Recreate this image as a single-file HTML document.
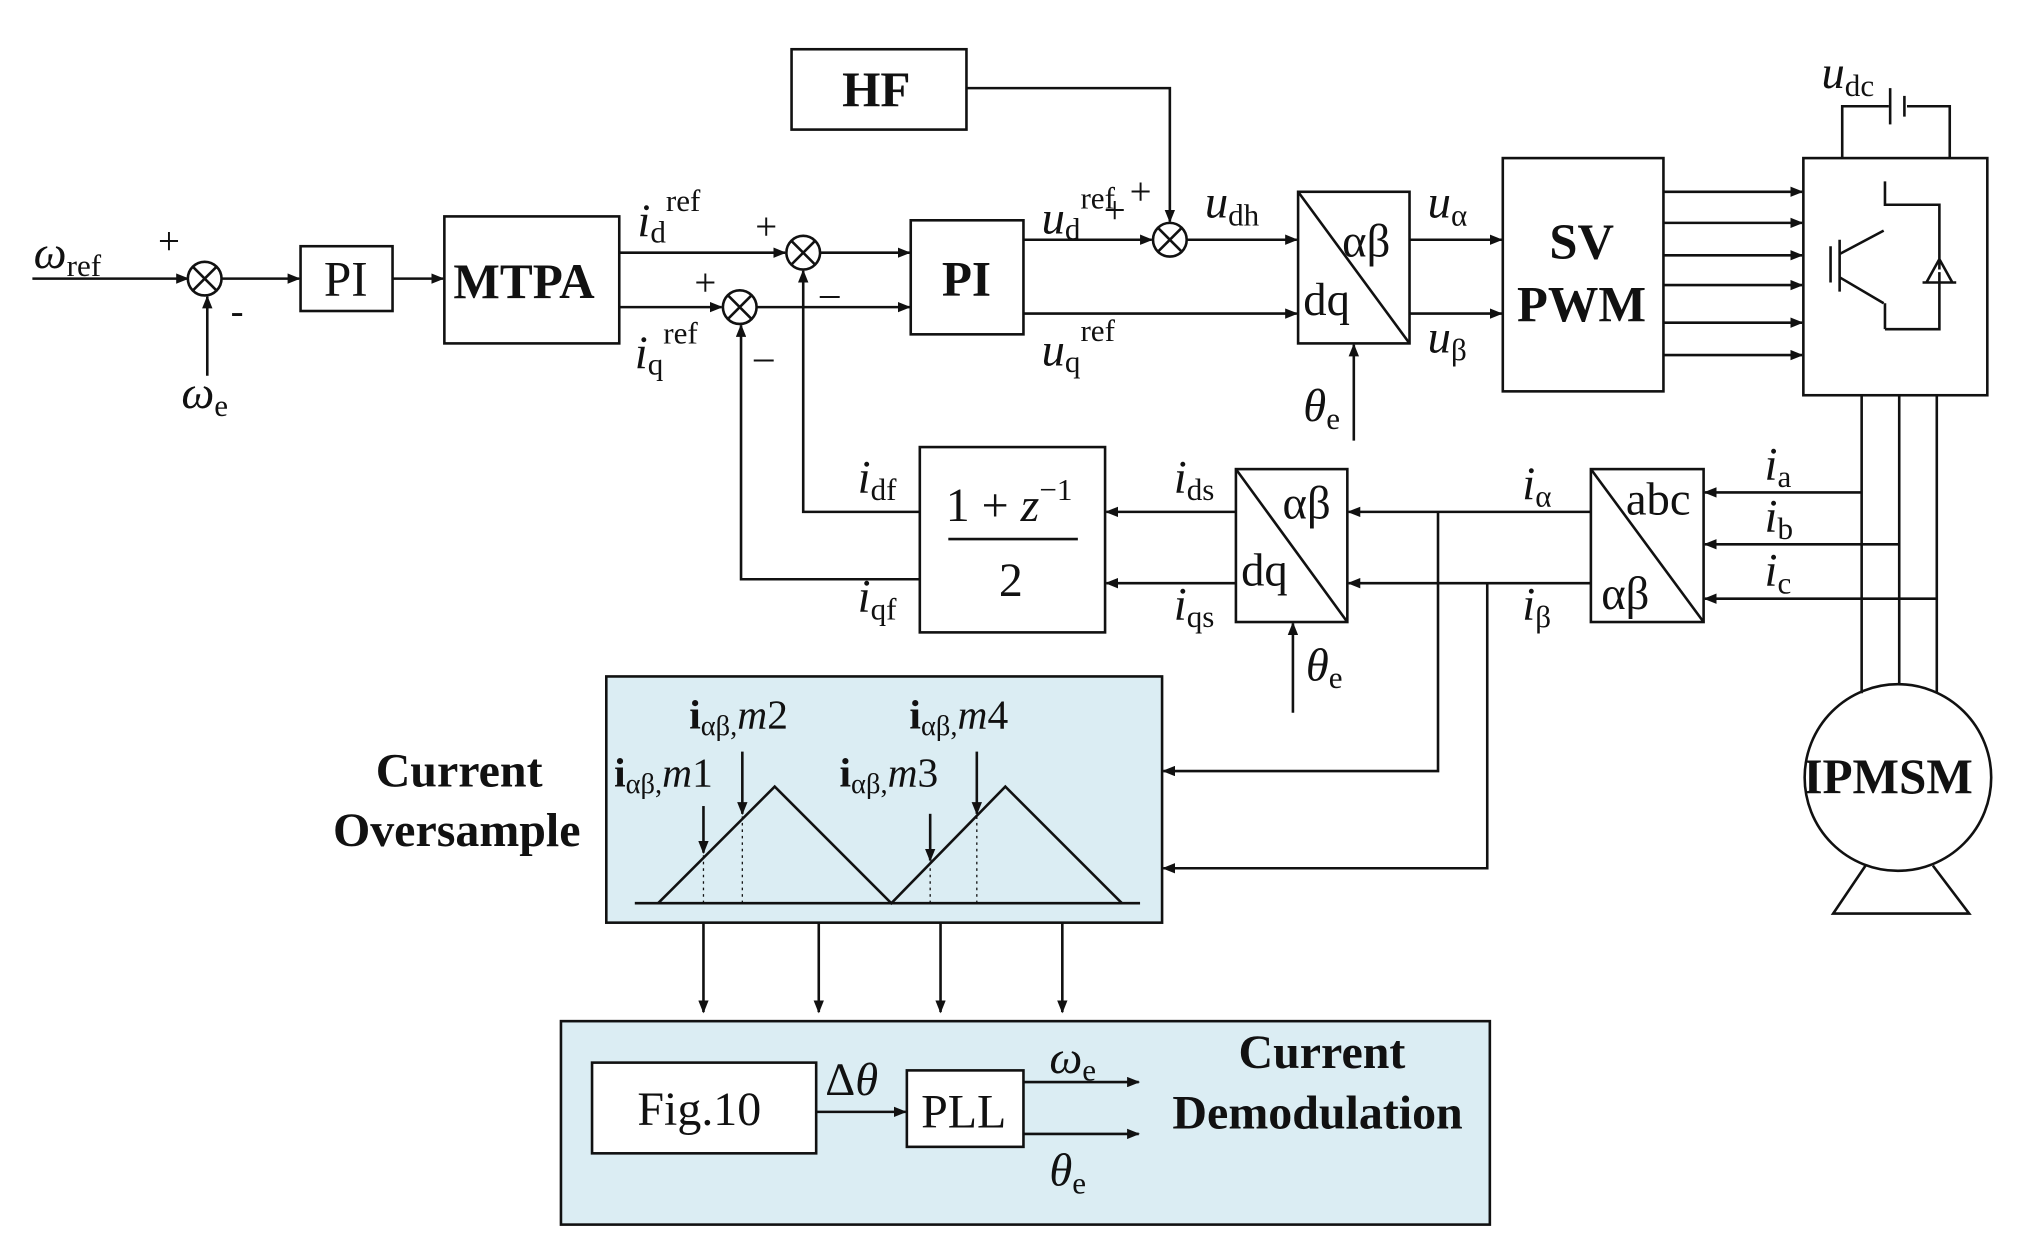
<!DOCTYPE html>
<html><head><meta charset="utf-8"><style>
html,body{margin:0;padding:0;background:#fff}
svg{display:block}
text{font-family:"Liberation Serif",serif;fill:#111}
</style></head><body>
<svg width="2021" height="1257" viewBox="0 0 1560 970" preserveAspectRatio="none" xmlns="http://www.w3.org/2000/svg">
<defs><marker id="a" markerWidth="10" markerHeight="8" refX="9" refY="4" orient="auto" markerUnits="userSpaceOnUse"><path d="M0,0 L10,4 L0,8z" fill="#111"/></marker></defs>
<g stroke="#111" stroke-width="2" fill="none">
<line x1="25" y1="215" x2="145" y2="215" marker-end="url(#a)"/>
<circle cx="158" cy="215" r="13"/><path d="M149,206l18,18M167,206l-18,18"/>
<line x1="160" y1="290" x2="160" y2="229" marker-end="url(#a)"/>
<line x1="171" y1="215" x2="231" y2="215" marker-end="url(#a)"/>
<rect x="232" y="190" width="71" height="50"/>
<line x1="303" y1="215" x2="342" y2="215" marker-end="url(#a)"/>
<rect x="343" y="167" width="135" height="98"/>
<line x1="478" y1="195" x2="606" y2="195" marker-end="url(#a)"/>
<line x1="478" y1="237" x2="557" y2="237" marker-end="url(#a)"/>
<circle cx="620" cy="195" r="13"/><path d="M611,186l18,18M629,186l-18,18"/>
<circle cx="571" cy="237" r="13"/><path d="M562,228l18,18M580,228l-18,18"/>
<line x1="633" y1="195" x2="702" y2="195" marker-end="url(#a)"/>
<line x1="584" y1="237" x2="702" y2="237" marker-end="url(#a)"/>
<rect x="703" y="170" width="87" height="88"/>
<rect x="611" y="38" width="135" height="62"/>
<polyline points="746,68 903,68 903,171" marker-end="url(#a)"/>
<line x1="790" y1="185" x2="889" y2="185" marker-end="url(#a)"/>
<circle cx="903" cy="185" r="13"/><path d="M894,176l18,18M912,176l-18,18"/>
<line x1="916" y1="185" x2="1001" y2="185" marker-end="url(#a)"/>
<line x1="790" y1="242" x2="1001" y2="242" marker-end="url(#a)"/>
<rect x="1002" y="148" width="86" height="117"/><line x1="1002" y1="148" x2="1088" y2="265"/>
<line x1="1045" y1="340" x2="1045" y2="266" marker-end="url(#a)"/>
<line x1="1088" y1="185" x2="1159" y2="185" marker-end="url(#a)"/>
<line x1="1088" y1="242" x2="1159" y2="242" marker-end="url(#a)"/>
<rect x="1160" y="122" width="124" height="180"/>
<line x1="1284" y1="148" x2="1391" y2="148" marker-end="url(#a)"/>
<line x1="1284" y1="172" x2="1391" y2="172" marker-end="url(#a)"/>
<line x1="1284" y1="197" x2="1391" y2="197" marker-end="url(#a)"/>
<line x1="1284" y1="220" x2="1391" y2="220" marker-end="url(#a)"/>
<line x1="1284" y1="249" x2="1391" y2="249" marker-end="url(#a)"/>
<line x1="1284" y1="274" x2="1391" y2="274" marker-end="url(#a)"/>
<rect x="1392" y="122" width="142" height="183"/>
<polyline points="1422,122 1422,82 1458,82"/><polyline points="1472,82 1505,82 1505,122"/>
<line x1="1459" y1="68" x2="1459" y2="96"/><line x1="1470" y1="74" x2="1470" y2="90"/>
<path d="M1455,140v18h42v50M1413,190v28M1420,185v40M1420,196l34,-18M1420,214l34,20M1455,234v20M1455,254h42v-44M1484,218h26M1497,200l-10,18h20z"/>
<line x1="1437" y1="305" x2="1437" y2="535"/><line x1="1466" y1="305" x2="1466" y2="528"/><line x1="1495" y1="305" x2="1495" y2="535"/>
<circle cx="1465" cy="600" r="72"/>
<polyline points="1440,668 1415,705 1520,705 1492,668"/>
<line x1="1437" y1="380" x2="1316" y2="380" marker-end="url(#a)"/>
<line x1="1466" y1="420" x2="1316" y2="420" marker-end="url(#a)"/>
<line x1="1495" y1="462" x2="1316" y2="462" marker-end="url(#a)"/>
<rect x="1228" y="362" width="87" height="118"/><line x1="1228" y1="362" x2="1315" y2="480"/>
<line x1="1228" y1="395" x2="1041" y2="395" marker-end="url(#a)"/>
<line x1="1228" y1="450" x2="1041" y2="450" marker-end="url(#a)"/>
<rect x="954" y="362" width="86" height="118"/><line x1="954" y1="362" x2="1040" y2="480"/>
<line x1="998" y1="550" x2="998" y2="481" marker-end="url(#a)"/>
<line x1="954" y1="395" x2="854" y2="395" marker-end="url(#a)"/>
<line x1="954" y1="450" x2="854" y2="450" marker-end="url(#a)"/>
<rect x="710" y="345" width="143" height="143"/>
<line x1="732" y1="416" x2="832" y2="416"/>
<polyline points="710,395 620,395 620,209" marker-end="url(#a)"/>
<polyline points="710,447 572,447 572,251" marker-end="url(#a)"/>
<polyline points="1110,395 1110,595 898,595" marker-end="url(#a)"/>
<polyline points="1148,450 1148,670 898,670" marker-end="url(#a)"/>
<rect x="468" y="522" width="429" height="190" fill="#dbedf3"/>
<line x1="490" y1="697" x2="880" y2="697"/>
<polyline points="508,697 598,607 688,697 776,607 866,697"/>
<g stroke-width="1" stroke-dasharray="2,3"><line x1="543" y1="660" x2="543" y2="697"/><line x1="573" y1="630" x2="573" y2="697"/><line x1="718" y1="665" x2="718" y2="697"/><line x1="754" y1="630" x2="754" y2="697"/></g>
<line x1="543" y1="622" x2="543" y2="658" marker-end="url(#a)"/>
<line x1="573" y1="580" x2="573" y2="628" marker-end="url(#a)"/>
<line x1="718" y1="628" x2="718" y2="664" marker-end="url(#a)"/>
<line x1="754" y1="580" x2="754" y2="628" marker-end="url(#a)"/>
<line x1="543" y1="712" x2="543" y2="781" marker-end="url(#a)"/>
<line x1="632" y1="712" x2="632" y2="781" marker-end="url(#a)"/>
<line x1="726" y1="712" x2="726" y2="781" marker-end="url(#a)"/>
<line x1="820" y1="712" x2="820" y2="781" marker-end="url(#a)"/>
<rect x="433" y="788" width="717" height="157" fill="#dbedf3"/>
<rect x="457" y="820" width="173" height="70" fill="#fff"/>
<rect x="700" y="826" width="90" height="59" fill="#fff"/>
<line x1="630" y1="858" x2="699" y2="858" marker-end="url(#a)"/>
<line x1="790" y1="835" x2="879" y2="835" marker-end="url(#a)"/>
<line x1="790" y1="875" x2="879" y2="875" marker-end="url(#a)"/>
</g>
<g font-size="36">
<text x="26" y="207" font-style="italic">ω<tspan font-size="24" font-style="normal" dy="6">ref</tspan></text>
<text x="122" y="196" font-size="30">+</text><text x="178" y="250" font-size="30">-</text>
<text x="140" y="315" font-style="italic">ω<tspan font-size="24" font-style="normal" dy="6">e</tspan></text>
<text x="250" y="228" font-size="38">PI</text>
<text x="350" y="230" font-weight="bold" font-size="38">MTPA</text>
<text x="492" y="182" font-style="italic">i<tspan font-size="24" font-style="normal" dy="5">d</tspan><tspan font-size="24" font-style="normal" dy="-24">ref</tspan></text>
<text x="490" y="284" font-style="italic">i<tspan font-size="24" font-style="normal" dy="5">q</tspan><tspan font-size="24" font-style="normal" dy="-24">ref</tspan></text>
<text x="583" y="185" font-size="30">+</text><text x="536" y="228" font-size="30">+</text>
<text x="633" y="236" font-size="30">–</text><text x="582" y="285" font-size="30">–</text>
<text x="727" y="228" font-weight="bold" font-size="38">PI</text>
<text x="650" y="82" font-weight="bold" font-size="38">HF</text>
<text x="804" y="180" font-style="italic">u<tspan font-size="24" font-style="normal" dy="5">d</tspan><tspan font-size="24" font-style="normal" dy="-24">ref</tspan></text>
<text x="852" y="172" font-size="30">+</text><text x="872" y="158" font-size="30">+</text>
<text x="804" y="282" font-style="italic">u<tspan font-size="24" font-style="normal" dy="5">q</tspan><tspan font-size="24" font-style="normal" dy="-24">ref</tspan></text>
<text x="930" y="168" font-style="italic">u<tspan font-size="24" font-style="normal" dy="6">dh</tspan></text>
<text x="1036" y="198">αβ</text><text x="1006" y="243">dq</text>
<text x="1006" y="325" font-style="italic">θ<tspan font-size="24" font-style="normal" dy="6">e</tspan></text>
<text x="1102" y="168" font-style="italic">u<tspan font-size="24" font-style="normal" dy="6">α</tspan></text>
<text x="1102" y="272" font-style="italic">u<tspan font-size="24" font-style="normal" dy="6">β</tspan></text>
<text x="1196" y="200" font-weight="bold" font-size="39">SV</text>
<text x="1171" y="248" font-weight="bold" font-size="39">PWM</text>
<text x="1406" y="68" font-style="italic">u<tspan font-size="24" font-style="normal" dy="6">dc</tspan></text>
<text x="1392" y="612" font-weight="bold" font-size="38">IPMSM</text>
<text x="1362" y="370" font-style="italic">i<tspan font-size="24" font-style="normal" dy="6">a</tspan></text>
<text x="1362" y="410" font-style="italic">i<tspan font-size="24" font-style="normal" dy="6">b</tspan></text>
<text x="1362" y="452" font-style="italic">i<tspan font-size="24" font-style="normal" dy="6">c</tspan></text>
<text x="1255" y="397">abc</text><text x="1236" y="470">αβ</text>
<text x="1175" y="385" font-style="italic">i<tspan font-size="24" font-style="normal" dy="6">α</tspan></text>
<text x="1175" y="478" font-style="italic">i<tspan font-size="24" font-style="normal" dy="6">β</tspan></text>
<text x="990" y="400">αβ</text><text x="958" y="452">dq</text>
<text x="1008" y="525" font-style="italic">θ<tspan font-size="24" font-style="normal" dy="6">e</tspan></text>
<text x="906" y="380" font-style="italic">i<tspan font-size="24" font-style="normal" dy="6">ds</tspan></text>
<text x="906" y="478" font-style="italic">i<tspan font-size="24" font-style="normal" dy="6">qs</tspan></text>
<text x="662" y="380" font-style="italic">i<tspan font-size="24" font-style="normal" dy="6">df</tspan></text>
<text x="662" y="472" font-style="italic">i<tspan font-size="24" font-style="normal" dy="6">qf</tspan></text>
<text x="730" y="402" font-size="37">1 + <tspan font-style="italic">z</tspan><tspan font-size="24" dy="-16">−1</tspan></text>
<text x="771" y="460" font-size="37">2</text>
<text x="290" y="607" font-weight="bold" font-size="37">Current</text>
<text x="257" y="653" font-weight="bold" font-size="37">Oversample</text>
<text x="532" y="562" font-size="32"><tspan font-weight="bold">i</tspan><tspan font-size="22" dy="5">αβ,</tspan><tspan font-style="italic" dy="-5">m</tspan>2</text>
<text x="702" y="562" font-size="32"><tspan font-weight="bold">i</tspan><tspan font-size="22" dy="5">αβ,</tspan><tspan font-style="italic" dy="-5">m</tspan>4</text>
<text x="474" y="607" font-size="32"><tspan font-weight="bold">i</tspan><tspan font-size="22" dy="5">αβ,</tspan><tspan font-style="italic" dy="-5">m</tspan>1</text>
<text x="648" y="607" font-size="32"><tspan font-weight="bold">i</tspan><tspan font-size="22" dy="5">αβ,</tspan><tspan font-style="italic" dy="-5">m</tspan>3</text>
<text x="492" y="868" font-size="37">Fig.10</text>
<text x="711" y="870" font-size="37">PLL</text>
<text x="637" y="845" font-size="36">Δ<tspan font-style="italic">θ</tspan></text>
<text x="810" y="828" font-style="italic">ω<tspan font-size="24" font-style="normal" dy="6">e</tspan></text>
<text x="810" y="915" font-style="italic">θ<tspan font-size="24" font-style="normal" dy="6">e</tspan></text>
<text x="956" y="824" font-weight="bold" font-size="37">Current</text>
<text x="905" y="871" font-weight="bold" font-size="37">Demodulation</text>
</g>
</svg>
</body></html>
